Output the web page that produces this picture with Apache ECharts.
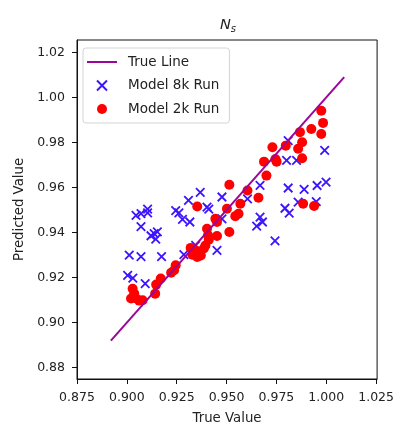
<!DOCTYPE html>
<html>
<head>
<meta charset="utf-8">
<script src="https://cdn.jsdelivr.net/npm/echarts@6/dist/echarts.min.js"></script>
<style>
  html, body { margin: 0; padding: 0; background: #fff; }
  #chart { width: 397px; height: 430px; }
</style>
</head>
<body>
<div id="chart"></div>
<script>
const xTicks = [0.875, 0.9, 0.925, 0.95, 0.975, 1.0, 1.025];
const yTicks = [0.88, 0.9, 0.92, 0.94, 0.96, 0.98, 1.0, 1.02];

const trueX = [0.892, 1.009];
const trueY = [0.892, 1.009];

const run8kX = [0.9809, 0.9992, 0.9801, 0.9851, 0.9668, 0.9809, 0.9889, 0.9954, 0.9999,
  0.9368, 0.9477, 0.9605, 0.9309, 0.9793, 0.9814, 0.9859, 0.9950, 0.9402, 0.9411,
  0.9245, 0.9261, 0.9279, 0.9316, 0.9046, 0.9071, 0.9104, 0.9104, 0.9071, 0.9121,
  0.9137, 0.9153, 0.9145, 0.9477, 0.9668, 0.9680, 0.9651, 0.9743, 0.9452, 0.9345,
  0.9012, 0.9071, 0.9174, 0.9286, 0.9004, 0.9030, 0.9092];
const run8kY = [0.9808, 0.9765, 0.9721, 0.9721, 0.9610, 0.9598, 0.9592, 0.9609, 0.9624,
  0.9579, 0.9558, 0.9550, 0.9543, 0.9508, 0.9486, 0.9535, 0.9537, 0.9513, 0.9504,
  0.9498, 0.9488, 0.9459, 0.9447, 0.9476, 0.9484, 0.9504, 0.9488, 0.9426, 0.9386,
  0.9395, 0.9403, 0.9371, 0.9461, 0.9469, 0.9447, 0.9429, 0.9363, 0.9321, 0.9343,
  0.9300, 0.9293, 0.9293, 0.9302, 0.9210, 0.9198, 0.9173];

const run2kX = [0.9975, 0.9984, 0.9975, 0.9925, 0.9868, 0.9879, 0.9859, 0.9879, 0.9797, 0.9730,
  0.9745, 0.9751, 0.9688, 0.9700, 0.9514, 0.9605, 0.9660, 0.9569, 0.9502, 0.9560,
  0.9544, 0.9353, 0.9444, 0.9452, 0.9402, 0.9514, 0.9452, 0.9407, 0.9411, 0.9884,
  0.9939, 0.9394, 0.9345, 0.9320, 0.9353, 0.9371, 0.9329, 0.9386, 0.9245, 0.9237,
  0.9222, 0.9170, 0.9147, 0.9142, 0.9029, 0.9037, 0.9021, 0.9047, 0.9079, 0.9062];
const run2kY = [0.9941, 0.9887, 0.9838, 0.9860, 0.9846, 0.9801, 0.9772, 0.9730, 0.9786, 0.9779,
  0.9727, 0.9715, 0.9715, 0.9653, 0.9612, 0.9587, 0.9555, 0.9528, 0.9506, 0.9484,
  0.9473, 0.9516, 0.9461, 0.9447, 0.9417, 0.9403, 0.9385, 0.9388, 0.9368, 0.9528,
  0.9518, 0.9343, 0.9321, 0.9332, 0.9292, 0.9298, 0.9302, 0.9329, 0.9255, 0.9233,
  0.9222, 0.9196, 0.9169, 0.9129, 0.9151, 0.9129, 0.9107, 0.9107, 0.9100, 0.9098];

const zip = (xs, ys) => xs.map((x, i) => [x, ys[i]]);
const font = "DejaVu Sans";
const crossPath = "path://M0,0L10,10M10,0L0,10";
const lineIcon = "path://M0,0L30,0L30,2L0,2Z";
const lineColor = "#9a069a";

const chart = echarts.init(document.getElementById("chart"), null, { renderer: "canvas" });

chart.setOption({
  animation: false,
  textStyle: { fontFamily: font },
  graphic: [{
    type: "text",
    x: 228,
    y: 25,
    style: {
      text: "{n|N}{s|s}",
      align: "center",
      verticalAlign: "middle",
      rich: {
        n: { fontFamily: font, fontStyle: "italic", fontSize: 14.5, fill: "#222" },
        s: { fontFamily: font, fontStyle: "italic", fontSize: 10, fill: "#222", padding: [9, 0, 0, 0] }
      }
    }
  }],
  grid: {
    left: 77, right: 18, top: 40, bottom: 49,
    show: true, borderColor: "#111", borderWidth: 1
  },
  legend: {
    orient: "vertical",
    left: 83, top: 48,
    padding: [7, 10, 7, 4],
    itemWidth: 30, itemHeight: 10, itemGap: 9.5,
    backgroundColor: "rgba(255,255,255,0.85)",
    borderColor: "#d4d4d4", borderWidth: 1, borderRadius: 3,
    textStyle: { fontFamily: font, fontSize: 13.5, color: "#222", padding: [0, 0, 0, 6] },
    data: [
      { name: "True Line", icon: lineIcon, itemStyle: { color: lineColor } },
      { name: "Model 8k Run", icon: crossPath },
      { name: "Model 2k Run", icon: "circle" }
    ]
  },
  xAxis: {
    type: "value",
    min: 0.875, max: 1.0255,
    name: "True Value",
    nameLocation: "middle", nameGap: 33,
    nameTextStyle: { fontFamily: font, fontSize: 13.3, color: "#222" },
    axisLine: { show: true, onZero: false, lineStyle: { color: "#111", width: 1 } },
    axisTick: { show: true, length: 5, customValues: xTicks, lineStyle: { color: "#111" } },
    axisLabel: {
      customValues: xTicks, margin: 12, fontSize: 12.5, color: "#222", fontFamily: font,
      formatter: v => v.toFixed(3)
    },
    splitLine: { show: false }
  },
  yAxis: {
    type: "value",
    min: 0.875, max: 1.0255,
    name: "Predicted Value",
    nameLocation: "middle", nameGap: 50,
    nameTextStyle: { fontFamily: font, fontSize: 13.3, color: "#222" },
    axisLine: { show: true, onZero: false, lineStyle: { color: "#111", width: 1 } },
    axisTick: { show: true, length: 5, customValues: yTicks, lineStyle: { color: "#111" } },
    axisLabel: {
      customValues: yTicks, margin: 12, fontSize: 12.5, color: "#222", fontFamily: font,
      formatter: v => v.toFixed(2)
    },
    splitLine: { show: false }
  },
  series: [
    {
      name: "True Line",
      type: "line",
      data: zip(trueX, trueY),
      symbol: "none",
      z: 5,
      lineStyle: { color: lineColor, width: 2 },
      itemStyle: { color: lineColor }
    },
    {
      name: "Model 8k Run",
      type: "scatter",
      data: zip(run8kX, run8kY),
      symbol: crossPath,
      symbolSize: 8.5,
      z: 2,
      itemStyle: { color: "#3d14ff", borderColor: "#3d14ff", borderWidth: 1.8, opacity: 1 }
    },
    {
      name: "Model 2k Run",
      type: "scatter",
      data: zip(run2kX, run2kY),
      symbol: "circle",
      symbolSize: 10,
      z: 3,
      itemStyle: { color: "#ff0000", opacity: 1 }
    }
  ]
});
</script>
</body>
</html>
